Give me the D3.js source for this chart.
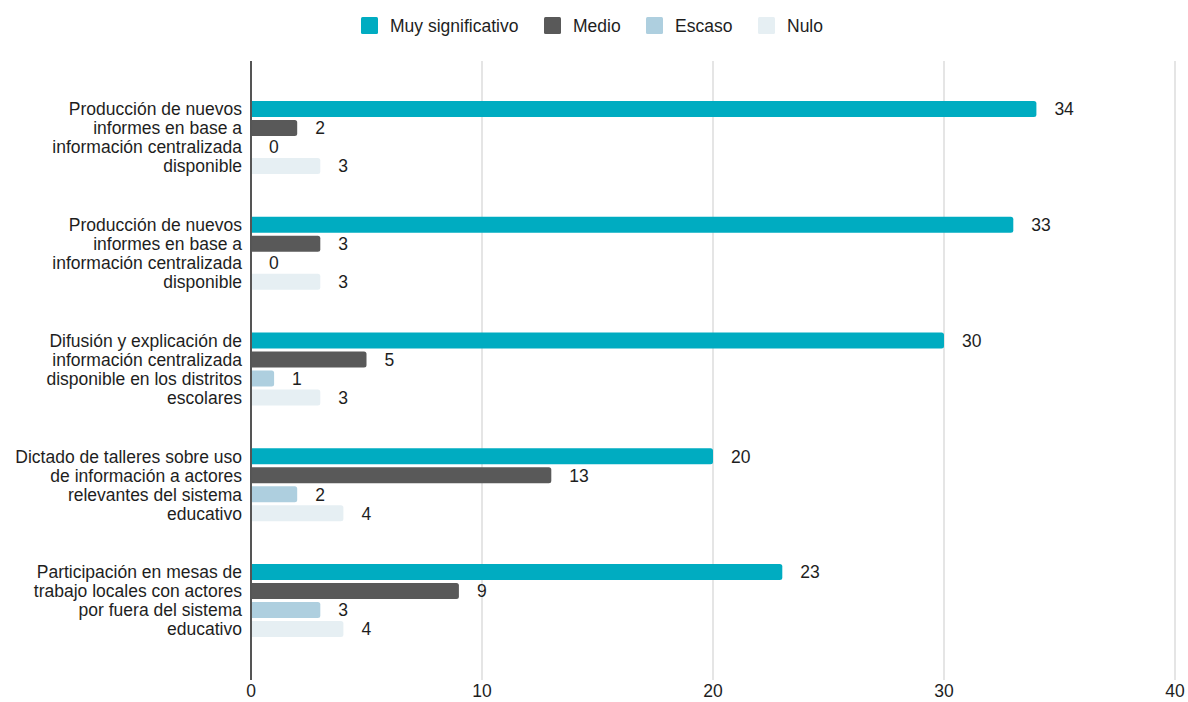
<!DOCTYPE html>
<html lang="es">
<head>
  <meta charset="UTF-8">
  <title>Impacto</title>
  <style>
    body {
      margin: 0;
      background: white;
      font-family: "Liberation Sans", Arial, sans-serif;
    }
    .grid line { stroke: #dcdcdc; stroke-width: 1.5; }
    .cat-label, .value-label, .tick-label, .legend-text {
      font-size: 17.5px;
      fill: #1e1e1e;
    }
  </style>
</head>
<body>
  <div id="chart"></div>
  <script src="https://d3js.org/d3.v7.min.js"></script>
  <script>
    // categories, each split into the lines shown on the chart
    var categories = [
      ["Producción de nuevos", "informes en base a", "información centralizada", "disponible"],
      ["Producción de nuevos", "informes en base a", "información centralizada", "disponible"],
      ["Difusión y explicación de", "información centralizada", "disponible en los distritos", "escolares"],
      ["Dictado de talleres sobre uso", "de información a actores", "relevantes del sistema", "educativo"],
      ["Participación en mesas de", "trabajo locales con actores", "por fuera del sistema", "educativo"]
    ];
    var seriesNames = ["Muy significativo", "Medio", "Escaso", "Nulo"];
    var muySignificativo = [34, 33, 30, 20, 23];
    var medio = [2, 3, 5, 13, 9];
    var escaso = [0, 0, 1, 2, 3];
    var nulo = [3, 3, 3, 4, 4];
    var xTicks = [0, 10, 20, 30, 40];
    var colors = ["#00acc1", "#595959", "#aecfdf", "#e6eff3"];

    var series = [muySignificativo, medio, escaso, nulo];

    var width = 1188, height = 702;
    var svg = d3.select("#chart").append("svg")
      .attr("width", width)
      .attr("height", height);

    var x = d3.scaleLinear().domain([0, 40]).range([251, 1175]);
    var y = d3.scaleBand()
      .domain(d3.range(categories.length))
      .range([79.6, 658.4]);
    var ySub = d3.scaleBand()
      .domain(d3.range(seriesNames.length))
      .range([0, 76])
      .paddingInner(0.16)
      .paddingOuter(0.08);

    var plotTop = 61, plotBottom = 680;

    // bar with rounded right end only
    function barPath(x0, x1, y0, h, r) {
      var w = x1 - x0;
      r = Math.min(r, w / 2, h / 2);
      return "M" + x0 + "," + y0 +
        "H" + (x1 - r) +
        "Q" + x1 + "," + y0 + " " + x1 + "," + (y0 + r) +
        "V" + (y0 + h - r) +
        "Q" + x1 + "," + (y0 + h) + " " + (x1 - r) + "," + (y0 + h) +
        "H" + x0 + "Z";
    }

    // gridlines
    svg.append("g").attr("class", "grid")
      .selectAll("line")
      .data(xTicks.slice(1))
      .enter().append("line")
      .attr("x1", d => x(d)).attr("x2", d => x(d))
      .attr("y1", plotTop).attr("y2", plotBottom);

    // tick labels
    svg.append("g")
      .selectAll("text")
      .data(xTicks)
      .enter().append("text")
      .attr("class", "tick-label")
      .attr("x", d => x(d))
      .attr("y", 697)
      .attr("text-anchor", "middle")
      .text(d => d);

    // bars
    var groups = svg.append("g")
      .selectAll("g")
      .data(categories)
      .enter().append("g")
      .attr("transform", (d, i) => "translate(0," + (y(i) + y.bandwidth() / 2 - 38) + ")");

    groups.each(function(cat, ci) {
      var g = d3.select(this);
      series.forEach(function(vals, si) {
        var v = vals[ci];
        if (v > 0) {
          g.append("path")
            .attr("d", barPath(x(0), x(v), ySub(si), ySub.bandwidth(), 2.5))
            .attr("fill", colors[si]);
        }
        g.append("text")
          .attr("class", "value-label")
          .attr("x", x(v) + 18)
          .attr("y", ySub(si) + ySub.bandwidth() / 2)
          .attr("dy", "0.36em")
          .text(v);
      });

      // category label lines
      var lines = g.append("text")
        .attr("class", "cat-label")
        .attr("text-anchor", "end");
      cat.forEach(function(line, li) {
        lines.append("tspan")
          .attr("x", 242)
          .attr("y", ySub(li) + ySub.bandwidth() / 2)
          .attr("dy", "0.36em")
          .text(line);
      });
    });

    // axis line
    svg.append("line")
      .attr("x1", x(0)).attr("x2", x(0))
      .attr("y1", plotTop).attr("y2", plotBottom)
      .attr("stroke", "#555")
      .attr("stroke-width", 2);

    // legend
    var legendX = [361, 544, 646, 758];
    var legend = svg.append("g")
      .selectAll("g")
      .data(seriesNames)
      .enter().append("g")
      .attr("transform", (d, i) => "translate(" + legendX[i] + ",17)");
    legend.append("rect")
      .attr("width", 17).attr("height", 17)
      .attr("rx", 1.5)
      .attr("fill", (d, i) => colors[i]);
    legend.append("text")
      .attr("class", "legend-text")
      .attr("x", 29)
      .attr("y", 8.5)
      .attr("dy", "0.36em")
      .text(d => d);
  </script>
</body>
</html>
